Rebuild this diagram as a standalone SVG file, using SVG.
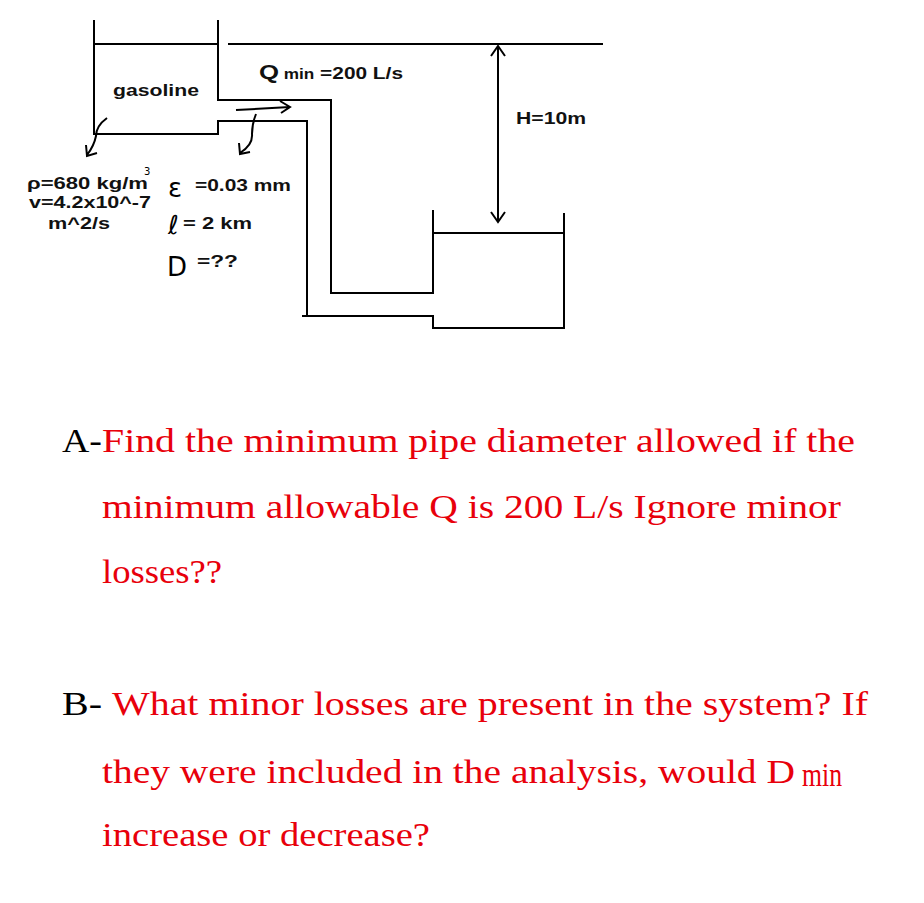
<svg xmlns="http://www.w3.org/2000/svg" width="924" height="903" viewBox="0 0 924 903">
<style>
.l{stroke:#000;stroke-width:2;fill:none}
.s{font-family:"Liberation Sans",Arial,sans-serif;font-weight:bold;font-size:17px;fill:#111}
.h{font-family:"DejaVu Sans",sans-serif;font-size:26px;fill:#000}
.q{font-family:"Liberation Serif","Times New Roman",serif;font-size:34px;fill:#e8000b}
.k{fill:#000}
</style>
<rect width="924" height="903" fill="#fff"/>
<g id="tanks">
<path class="l" d="M94 20V134H218V121H307V316"/>
<path class="l" d="M218 20V100H331V293H433V210"/>
<path class="l" d="M94 44H217M228 44H603"/>
<path class="l" d="M302 316H433V328H564V213M433 233H564"/>
</g>
<g id="connectors">
<path class="l" d="M236 110L290 107M280 101L290 107L281 113"/>
<path class="l" d="M498 47V222M491 56L498 46L505 56M491 212L498 222L505 212"/>
<path class="l" d="M107 118Q96 126 96 136Q94 146 87 155M86 145L87 156L97 153"/>
<path class="l" d="M256 114Q252 124 252 134Q253 145 240 153M239 143L240 154L250 152"/>
</g>
<g id="labels">
<text class="s" x="113" y="96" textLength="86" lengthAdjust="spacingAndGlyphs">gasoline</text>
<text class="s" x="259" y="79" textLength="144" lengthAdjust="spacingAndGlyphs"><tspan font-size="21">Q</tspan><tspan font-size="14"> min</tspan> =200 L/s</text>
<text class="s" x="516" y="124" textLength="70" lengthAdjust="spacingAndGlyphs">H=10m</text>
<text class="s" x="27" y="189" textLength="121" lengthAdjust="spacingAndGlyphs">ρ=680 kg/m</text>
<text x="144" y="175" font-family="DejaVu Sans,sans-serif" font-size="10">3</text>
<text class="s" x="29" y="208" textLength="122" lengthAdjust="spacingAndGlyphs">v=4.2x10^-7</text>
<text class="s" x="48" y="229" textLength="62" lengthAdjust="spacingAndGlyphs">m^2/s</text>
<text class="h" x="168" y="197">ε</text>
<text class="s" x="195" y="191" textLength="96" lengthAdjust="spacingAndGlyphs">=0.03 mm</text>
<text class="h" x="168" y="234">ℓ</text>
<text class="s" x="183" y="229" textLength="69" lengthAdjust="spacingAndGlyphs">= 2 km</text>
<text class="h" x="167" y="276">D</text>
<text class="s" x="197" y="267" textLength="41" lengthAdjust="spacingAndGlyphs">=??</text>
</g>
<g id="question">
<text class="q k" x="62" y="452" textLength="40" lengthAdjust="spacingAndGlyphs">A-</text>
<text class="q" x="102" y="452" textLength="753" lengthAdjust="spacingAndGlyphs">Find the minimum pipe diameter allowed if the</text>
<text class="q" x="102" y="518" textLength="739" lengthAdjust="spacingAndGlyphs">minimum allowable Q is 200 L/s Ignore minor</text>
<text class="q" x="102" y="583" textLength="120" lengthAdjust="spacingAndGlyphs">losses??</text>
<text class="q k" x="62" y="715" textLength="40" lengthAdjust="spacingAndGlyphs">B-</text>
<text class="q" x="112" y="715" textLength="756" lengthAdjust="spacingAndGlyphs">What minor losses are present in the system? If</text>
<text class="q" x="102" y="783" textLength="693" lengthAdjust="spacingAndGlyphs">they were included in the analysis, would D</text>
<text class="q" x="802" y="786" font-size="22" textLength="40" lengthAdjust="spacingAndGlyphs">min</text>
<text class="q" x="102" y="846" textLength="328" lengthAdjust="spacingAndGlyphs">increase or decrease?</text>
</g>
</svg>
